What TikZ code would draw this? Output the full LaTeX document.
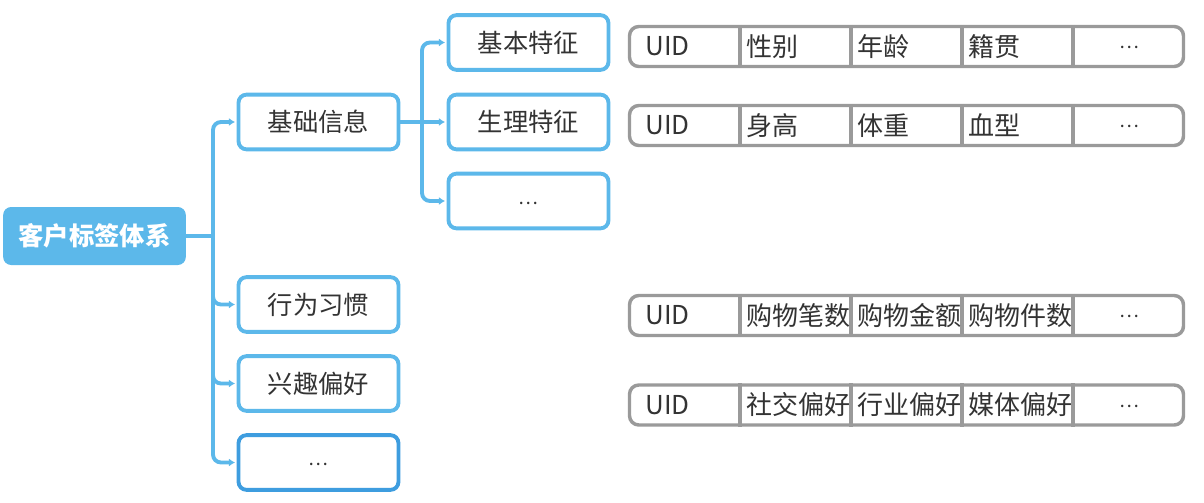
\documentclass[tikz,border=0pt]{standalone}
\usepackage{fontspec}
\setmainfont{Noto Sans CJK SC}
\usetikzlibrary{arrows.meta}
\definecolor{blu}{HTML}{5CB8EA}
\definecolor{blud}{HTML}{3E9DDF}
\definecolor{grb}{HTML}{9A9A9A}
\definecolor{txt}{HTML}{333333}
\tikzset{
  box/.style={draw=blu, line width=2.9pt, rounded corners=6pt, fill=white,
    minimum width=120pt, minimum height=41pt, inner sep=0pt, text=txt,
    font=\fontsize{19}{22}\selectfont},
  rootbox/.style={fill=blu, rounded corners=6pt, minimum width=137pt,
    minimum height=43.5pt, inner sep=0pt, text=white,
    font=\bfseries\fontsize{19}{22}\selectfont},
  link/.style={draw=blu, line width=2.9pt, rounded corners=6pt},
  conn/.style={link, -{Latex[length=4.5pt,width=6pt]}, shorten >=1.2pt},
  rowbox/.style={draw=grb, line width=2.6pt, rounded corners=7pt,
    minimum width=415.5pt, minimum height=30pt, inner sep=0pt},
  divline/.style={draw=grb, line width=2.6pt},
  cell/.style={anchor=west, inner sep=0pt, text=txt,
    font=\fontsize{19.5}{22}\selectfont},
  dots/.style={inner sep=0pt, text=txt, font=\fontsize{14}{16}\selectfont}
}
\newcommand\tabrow[6]{%
  \node[rowbox] (#1) at (906.5,#2) {};
  \foreach \xx in {740,851,962,1073}
    \draw[divline] (#1.north -| {(\xx,0)}) -- (#1.south -| {(\xx,0)});
  \node[cell] (#1a) at (645,#2) {UID};
  \node[cell] (#1b) at (746,#2) {#3};
  \node[cell] (#1c) at (857,#2) {#4};
  \node[cell] (#1d) at (968,#2) {#5};
  \node[dots] (#1e) at (1129,#2+1) {#6};
}
\begin{document}
\begin{tikzpicture}[x=0.75pt,y=-0.75pt]
\useasboundingbox (0,0) rectangle (1204,503);

% root
\node[rootbox] (root) at (94.5,236) {客户标签体系};

% level 1
\node[box] (b1) at (318.5,122) {基础信息};
\node[box] (b2) at (318.5,304.5) {行为习惯};
\node[box] (b3) at (318.5,383.5) {兴趣偏好};
\node[box, draw=blud] (b4) at (318.5,462.5) {};
\node[dots] (b4d) at (318.5,464) {…};

% level 2
\node[box] (c1) at (528.5,42.5) {基本特征};
\node[box] (c2) at (528.5,122) {生理特征};
\node[box] (c3) at (528.5,201) {};
\node[dots] (c3d) at (528.5,203) {…};

% connectors level 1
\coordinate (j1) at (213,236);
\draw[link] (root.east) -- (j1);
\draw[conn] (j1) |- (b1.west);
\draw[conn] (j1) |- (b2.west);
\draw[conn] (j1) |- (b3.west);
\draw[conn] (j1) |- (b4.west);

% connectors level 2
\coordinate (j2) at (422,122);
\draw[link] (b1.east) -- (j2);
\draw[conn] (j2) |- (c1.west);
\draw[conn] (j2) -- (c2.west);
\draw[conn] (j2) |- (c3.west);

% tables
\tabrow{r1}{46.5}{性别}{年龄}{籍贯}{…}
\tabrow{r2}{125.5}{身高}{体重}{血型}{…}
\tabrow{r3}{315.5}{购物笔数}{购物金额}{购物件数}{…}
\tabrow{r4}{405}{社交偏好}{行业偏好}{媒体偏好}{…}
\end{tikzpicture}
\end{document}
